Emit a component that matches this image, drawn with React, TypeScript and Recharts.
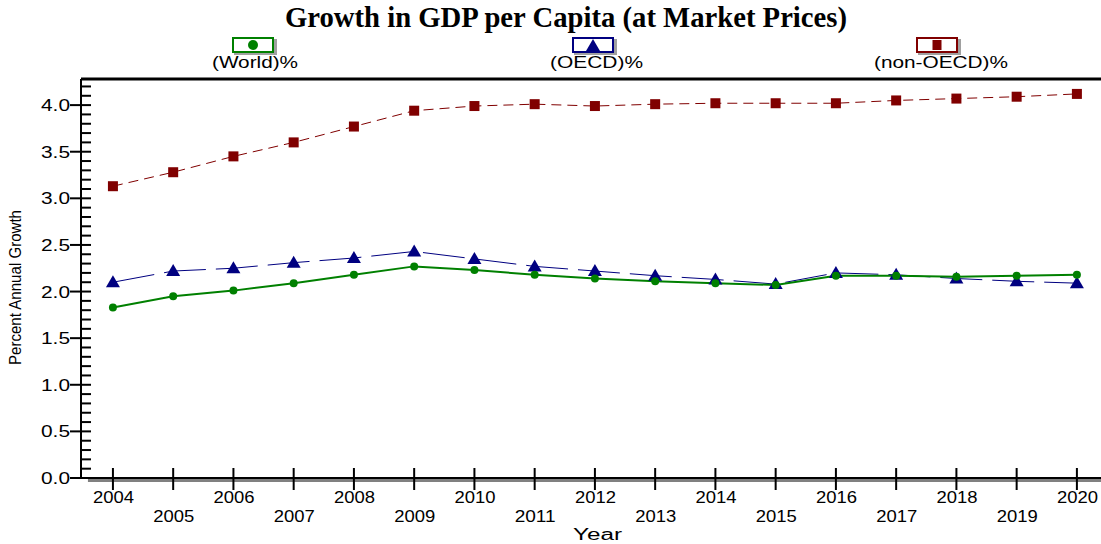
import React from "react";
import { LineChart, Line, XAxis, YAxis, ReferenceLine } from "recharts";

// Growth in GDP per capita
const years = [2004, 2005, 2006, 2007, 2008, 2009, 2010, 2011, 2012, 2013, 2014, 2015, 2016, 2017, 2018, 2019, 2020];
const world = [1.83, 1.95, 2.01, 2.09, 2.18, 2.27, 2.23, 2.18, 2.14, 2.11, 2.09, 2.07, 2.17, 2.17, 2.16, 2.17, 2.18];
const oecd = [2.10, 2.22, 2.25, 2.31, 2.36, 2.43, 2.35, 2.27, 2.22, 2.17, 2.13, 2.08, 2.20, 2.18, 2.14, 2.11, 2.09];
const nonOecd = [3.13, 3.28, 3.45, 3.60, 3.77, 3.94, 3.99, 4.01, 3.99, 4.01, 4.02, 4.02, 4.02, 4.05, 4.07, 4.09, 4.12];

const majorTicks = [0, 0.5, 1.0, 1.5, 2.0, 2.5, 3.0, 3.5, 4.0];
const minorTicks: number[] = [];
for (let i = 0; i <= 42; i++) minorTicks.push(i / 10);

const data = years.map((y, i) => ({
  year: y,
  world: world[i],
  oecd: oecd[i],
  nonOecd: nonOecd[i],
}));

const FONT = "'Liberation Sans', Arial, sans-serif";
const Y_MAX = 4.28;

const YTick = (props: any) => {
  const { x, y, payload } = props;
  const v = payload.value;
  const major = majorTicks.some((m) => Math.abs(m - v) < 1e-6);
  return (
    <g>
      <line x1={x} x2={x + 10} y1={y} y2={y} stroke="#000" strokeWidth={2} />
      {major && (
        <>
          <line x1={x - 11} x2={x} y1={y} y2={y} stroke="#000" strokeWidth={2} />
          <text
            x={x - 40}
            y={y + 6}
            fontFamily={FONT}
            fontSize={16}
            textLength={29}
            lengthAdjust="spacingAndGlyphs"
            fill="#000"
          >
            {v.toFixed(1)}
          </text>
        </>
      )}
    </g>
  );
};

const XTick = (props: any) => {
  const { x, y, payload, index } = props;
  const odd = payload.value % 2 === 1;
  return (
    <g>
      {index === 0 && <rect x={x - 25} y={y + 1} width={1100} height={3} fill="#808080" />}
      <line x1={x} x2={x} y1={y - 10} y2={y + 12} stroke="#000" strokeWidth={2} />
      <text
        x={x - 20}
        y={y + (odd ? 44 : 25)}
        fontFamily={FONT}
        fontSize={16}
        textLength={41}
        lengthAdjust="spacingAndGlyphs"
        fill="#000"
      >
        {payload.value}
      </text>
    </g>
  );
};

const CircleDot = (p: any) => <circle key={p.index} cx={p.cx} cy={p.cy} r={4} fill="#008000" />;
const TriDot = (p: any) => (
  <path key={p.index} d={`M${p.cx},${p.cy - 7} L${p.cx + 7},${p.cy + 5} L${p.cx - 7},${p.cy + 5} Z`} fill="#000080" />
);
const SquareDot = (p: any) => (
  <rect key={p.index} x={p.cx - 5} y={p.cy - 5} width={10} height={10} fill="#800000" />
);

const legendItems = [
  { name: "(World)%", color: "#008000", icon: "circle", cx: 253, tx: 212, tw: 86 },
  { name: "(OECD)%", color: "#000080", icon: "triangle", cx: 593, tx: 550, tw: 93 },
  { name: "(non-OECD)%", color: "#800000", icon: "square", cx: 937, tx: 874, tw: 134 },
];

const LegendBox = ({ item }: any) => (
  <g transform={`translate(${item.cx - 21}, 37)`}>
    <rect x={2} y={2} width={43} height={16} fill="#a0a0a0" />
    <rect x={1} y={1} width={40} height={14} fill="#fff" stroke={item.color} strokeWidth={2} />
    {item.icon === "circle" && <ellipse cx={21} cy={8} rx={5} ry={5} fill={item.color} />}
    {item.icon === "triangle" && <path d="M21,2 L28,14 L14,14 Z" fill={item.color} />}
    {item.icon === "square" && <rect x={16.5} y={3} width={9} height={10} fill={item.color} />}
  </g>
);

export default function App() {
  return (
    <div style={{ position: "absolute", left: 0, top: 0, width: 1101, height: 544, background: "#fff" }}>
      <LineChart
        width={1101}
        height={544}
        data={data}
        margin={{ top: 79, right: 0, left: 0, bottom: 0 }}
        style={{ position: "absolute", left: 0, top: 0 }}
      >
        <XAxis
          dataKey="year"
          type="number"
          domain={[2003.47, 2020.4]}
          ticks={years}
          interval={0}
          tickSize={0}
          tickMargin={0}
          tickLine={false}
          axisLine={{ stroke: "#000", strokeWidth: 2 }}
          tick={<XTick />}
          height={66}
          allowDataOverflow
        />
        <YAxis
          type="number"
          domain={[0, Y_MAX]}
          ticks={minorTicks}
          interval={0}
          width={81}
          tickSize={0}
          tickMargin={0}
          tickLine={false}
          axisLine={{ stroke: "#000", strokeWidth: 2 }}
          tick={<YTick />}
          allowDataOverflow
        />
        <ReferenceLine y={Y_MAX} stroke="#000" strokeWidth={3} />
        <Line
          dataKey="nonOecd"
          stroke="#800000"
          strokeWidth={1}
          strokeDasharray="10 6"
          dot={SquareDot}
          isAnimationActive={false}
        />
        <Line
          dataKey="oecd"
          stroke="#000080"
          strokeWidth={1}
          strokeDasharray="42 10"
          dot={TriDot}
          isAnimationActive={false}
        />
        <Line
          dataKey="world"
          stroke="#008000"
          strokeWidth={2}
          dot={CircleDot}
          isAnimationActive={false}
        />
      </LineChart>
      <svg width={1101} height={544} style={{ position: "absolute", left: 0, top: 0, pointerEvents: "none" }}>
        <text
          x={285}
          y={27}
          fontFamily="'Liberation Serif', 'Times New Roman', serif"
          fontWeight="bold"
          fontSize={30}
          textLength={562}
          lengthAdjust="spacingAndGlyphs"
          fill="#000"
        >
          Growth in GDP per Capita (at Market Prices)
        </text>
        {legendItems.map((item) => (
          <g key={item.name}>
            <LegendBox item={item} />
            <text
              x={item.tx}
              y={68}
              fontFamily={FONT}
              fontSize={16}
              textLength={item.tw}
              lengthAdjust="spacingAndGlyphs"
              fill="#000"
            >
              {item.name}
            </text>
          </g>
        ))}
        <text
          transform="translate(21, 365) rotate(-90)"
          x={0}
          y={0}
          fontFamily={FONT}
          fontSize={17}
          textLength={155}
          lengthAdjust="spacingAndGlyphs"
          fill="#000"
        >
          Percent Annual Growth
        </text>
        <text
          x={573}
          y={540}
          fontFamily={FONT}
          fontSize={16}
          textLength={49}
          lengthAdjust="spacingAndGlyphs"
          fill="#000"
        >
          Year
        </text>
      </svg>
    </div>
  );
}
